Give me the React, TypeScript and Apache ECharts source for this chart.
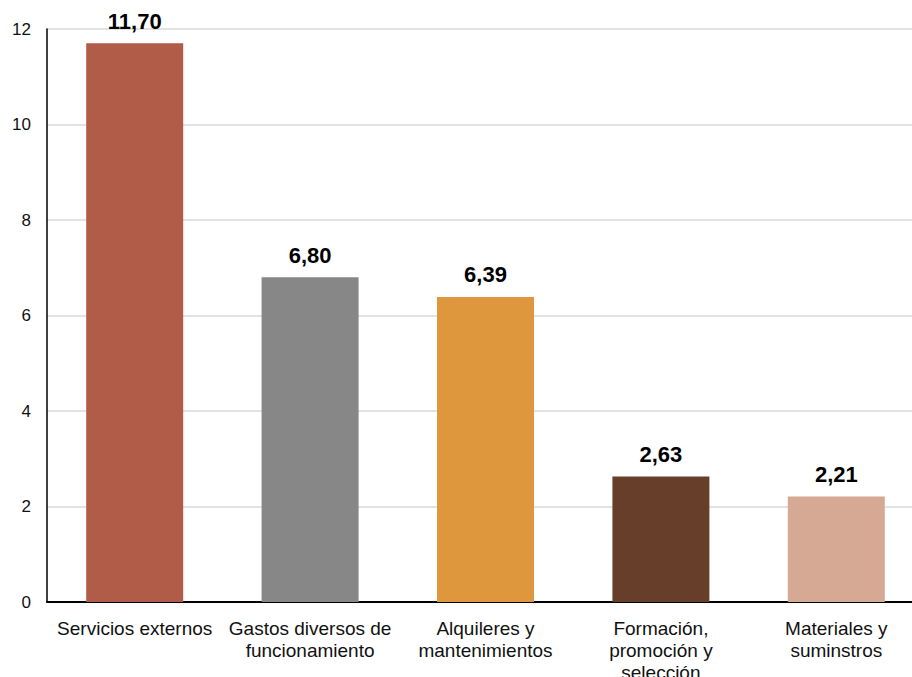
import React, { useEffect, useRef } from "react";
import * as echarts from "echarts";

const categories = [
  "Servicios externos",
  "Gastos diversos de\nfuncionamiento",
  "Alquileres y\nmantenimientos",
  "Formación,\npromoción y\nselección",
  "Materiales y\nsuminstros",
];
const values = [11.7, 6.8, 6.39, 2.63, 2.21];
const barColors = ["#B05C48", "#878787", "#DE973C", "#673E2A", "#D5A994"];

const FONT = "'Liberation Sans', Arial, Helvetica, sans-serif";

export default function App() {
  const ref = useRef<HTMLDivElement>(null);

  useEffect(() => {
    document.body.style.margin = "0";
    document.documentElement.style.overflow = "hidden";
    if (!ref.current) return;
    const chart = echarts.init(ref.current, null, { renderer: "svg" });
    chart.setOption({
      animation: false,
      grid: {
        left: 47,
        top: 29,
        width: 877,
        height: 573,
        containLabel: false,
        outerBoundsMode: "none",
      },
      xAxis: {
        type: "category",
        data: categories,
        axisLine: { show: true, lineStyle: { color: "#000", width: 2 } },
        axisTick: { show: false },
        axisLabel: {
          interval: 0,
          color: "#111",
          fontFamily: FONT,
          fontSize: 19,
          lineHeight: 22,
          margin: 15,
        },
      },
      yAxis: {
        type: "value",
        min: 0,
        max: 12,
        interval: 2,
        axisLine: { show: true, lineStyle: { color: "#000", width: 1.5 } },
        axisTick: { show: false },
        splitLine: { lineStyle: { color: "#D9D9D9", width: 1.5 } },
        axisLabel: { color: "#111", fontFamily: FONT, fontSize: 17, margin: 16 },
      },
      series: [
        {
          type: "bar",
          barWidth: 97,
          data: values.map((v, i) => ({ value: v, itemStyle: { color: barColors[i] } })),
          label: {
            show: true,
            position: "top",
            distance: 11,
            color: "#000",
            fontFamily: FONT,
            fontWeight: "bold",
            fontSize: 22,
            formatter: (p: any) => p.value.toFixed(2).replace(".", ","),
          },
        },
      ],
    });
    return () => chart.dispose();
  }, []);

  return <div ref={ref} style={{ width: 912, height: 677, overflow: "hidden" }} />;
}
